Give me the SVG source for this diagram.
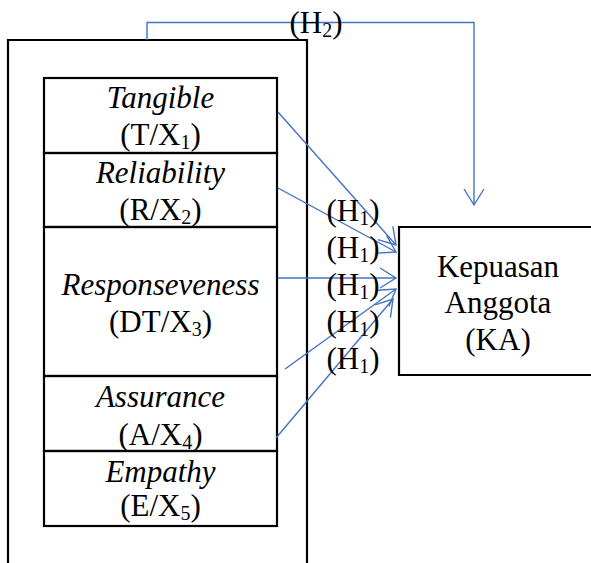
<svg xmlns="http://www.w3.org/2000/svg" width="591" height="563" viewBox="0 0 591 563">
  <style>
    .box { fill: none; stroke: #000; stroke-width: 2.2; }
    .lbl { font-family: "Liberation Serif", "Times New Roman", serif; font-size: 31px; fill: #000; text-anchor: middle; }
    .it { font-style: italic; }
    .sub { font-size: 20px; }
    .link { fill: none; stroke: #4472C4; stroke-width: 1.4; }
  </style>
  <defs>
    <marker id="vee" markerUnits="userSpaceOnUse" markerWidth="22" markerHeight="24" viewBox="-19 -12 22 24" refX="0" refY="0" orient="auto">
      <path d="M-16,-10 L0,0 L-16,10" fill="none" stroke="#4472C4" stroke-width="1.4"/>
    </marker>
  </defs>

  <rect width="591" height="563" fill="#fff"/>

  <!-- outer frame holding the service-quality dimensions -->
  <g id="dimensions-frame">
    <path class="box" d="M8,570 V40 H307 V570"/>
  </g>

  <g id="tangible">
    <rect class="box" x="44" y="78" width="233" height="75"/>
    <text class="lbl it" x="160.5" y="108">Tangible</text>
    <text class="lbl" x="160.5" y="145">(T/X<tspan class="sub" dy="4">1</tspan><tspan dy="-4">)</tspan></text>
  </g>

  <g id="reliability">
    <rect class="box" x="44" y="153" width="233" height="74"/>
    <text class="lbl it" x="160.5" y="183">Reliability</text>
    <text class="lbl" x="160.5" y="220">(R/X<tspan class="sub" dy="4">2</tspan><tspan dy="-4">)</tspan></text>
  </g>

  <g id="responseveness">
    <rect class="box" x="44" y="227" width="233" height="149"/>
    <text class="lbl it" x="160.5" y="295">Responseveness</text>
    <text class="lbl" x="160.5" y="332">(DT/X<tspan class="sub" dy="4">3</tspan><tspan dy="-4">)</tspan></text>
  </g>

  <g id="assurance">
    <rect class="box" x="44" y="376" width="233" height="75"/>
    <text class="lbl it" x="160.5" y="407">Assurance</text>
    <text class="lbl" x="160.5" y="445">(A/X<tspan class="sub" dy="4">4</tspan><tspan dy="-4">)</tspan></text>
  </g>

  <g id="empathy">
    <rect class="box" x="44" y="451" width="233" height="75"/>
    <text class="lbl it" x="160.5" y="482">Empathy</text>
    <text class="lbl" x="160.5" y="516">(E/X<tspan class="sub" dy="4">5</tspan><tspan dy="-4">)</tspan></text>
  </g>

  <g id="kepuasan-anggota">
    <path class="box" d="M600,227 H399 V375 H600"/>
    <text class="lbl" x="498" y="277">Kepuasan</text>
    <text class="lbl" x="498" y="313">Anggota</text>
    <text class="lbl" x="498" y="350">(KA)</text>
  </g>

  <!-- hypothesis paths -->
  <g id="connectors">
    <path class="link" d="M147,40 V22.5 H474 V205" marker-end="url(#vee)"/>
    <line class="link" x1="278" y1="112" x2="396" y2="245" marker-end="url(#vee)"/>
    <line class="link" x1="278" y1="188" x2="396" y2="252" marker-end="url(#vee)"/>
    <line class="link" x1="278" y1="278" x2="396" y2="278" marker-end="url(#vee)"/>
    <line class="link" x1="285" y1="369" x2="396" y2="289" marker-end="url(#vee)"/>
    <line class="link" x1="276" y1="438" x2="393" y2="299" marker-end="url(#vee)"/>
  </g>

  <g id="hypothesis-labels">
    <text class="lbl" x="316" y="33">(H<tspan class="sub" dy="4">2</tspan><tspan dy="-4">)</tspan></text>
    <text class="lbl" x="353" y="221">(H<tspan class="sub" dy="4">1</tspan><tspan dy="-4">)</tspan></text>
    <text class="lbl" x="353" y="258">(H<tspan class="sub" dy="4">1</tspan><tspan dy="-4">)</tspan></text>
    <text class="lbl" x="353" y="295">(H<tspan class="sub" dy="4">1</tspan><tspan dy="-4">)</tspan></text>
    <text class="lbl" x="353" y="332">(H<tspan class="sub" dy="4">1</tspan><tspan dy="-4">)</tspan></text>
    <text class="lbl" x="353" y="369">(H<tspan class="sub" dy="4">1</tspan><tspan dy="-4">)</tspan></text>
  </g>
</svg>
